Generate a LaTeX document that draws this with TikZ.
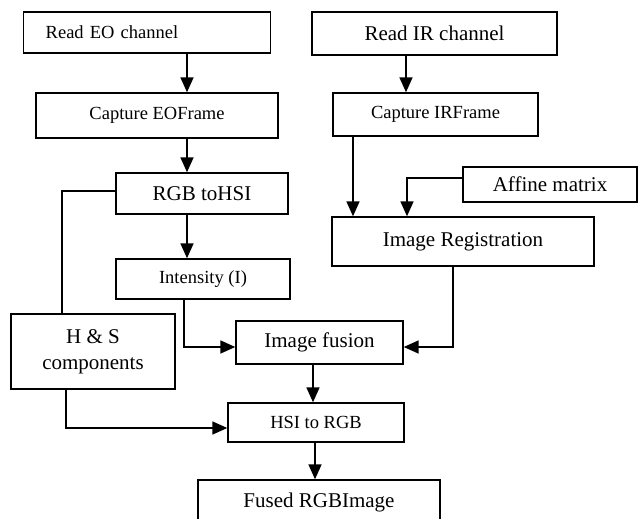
\documentclass[tikz,border=0pt]{standalone}
\usepackage{fontspec}
\setmainfont{Liberation Serif}
\usetikzlibrary{arrows.meta}
\begin{document}
\begin{tikzpicture}[x=1bp,y=-1bp,
  box/.style={draw,line width=1.4bp,inner sep=0pt,align=center},
  big/.style={font=\fontsize{21bp}{26bp}\selectfont},
  small/.style={font=\fontsize{18.5bp}{22bp}\selectfont},
  arr/.style={line width=1.7bp,-{Triangle[length=15bp,width=13bp]}},
  ln/.style={line width=1.5bp}]
\useasboundingbox (0,0) rectangle (638,519);
% left column
\node[box,small,anchor=west,text width=203bp,align=left,inner xsep=22bp,minimum height=41bp] (readEO) at (23,32.5) {Read EO channel};
\node[box,small,minimum width=242bp,minimum height=45bp] (capEO) at (157,115.5) {Capture EOFrame};
\node[box,big,minimum width=172bp,minimum height=41bp] (rgb) at (202,193.5) {RGB toHSI};
\node[box,small,minimum width=174bp,minimum height=40bp] (inten) at (203,279) {Intensity (I)};
\node[box,big,minimum width=164bp,minimum height=75bp] (hs) at (93,351.5) {H \& S\\components};
\node[box,big,minimum width=167bp,minimum height=43bp] (fusion) at (319.5,342.5) {Image fusion};
\node[box,small,minimum width=176bp,minimum height=39bp] (hsi) at (316,422.5) {HSI to RGB};
\node[box,big,minimum width=242bp,minimum height=45bp] (fused) at (319,502.5) {Fused RGBImage};
% right column
\node[box,big,minimum width=245bp,minimum height=43bp] (readIR) at (434.5,33.5) {Read IR channel};
\node[box,small,minimum width=205bp,minimum height=43bp] (capIR) at (435.5,114.5) {Capture IRFrame};
\node[box,big,minimum width=174bp,minimum height=35bp] (affine) at (550,184.5) {Affine matrix};
\node[box,big,minimum width=262bp,minimum height=49bp] (reg) at (463,241.5) {Image Registration};
% connectors
\draw[arr] (readEO.south -| 187,0) -- (capEO.north -| 187,0);
\draw[arr] (capEO.south -| 187,0) -- (rgb.north -| 187,0);
\draw[arr] (rgb.south -| 187,0) -- (inten.north -| 187,0);
\draw[ln] (rgb.west |- 0,191) -| (hs.north -| 62,0);
\draw[arr] (inten.south -| 184,0) |- (fusion.west |- 0,347);
\draw[arr] (reg.south -| 453,0) |- (fusion.east |- 0,347);
\draw[arr] (fusion.south -| 313,0) -- (hsi.north -| 313,0);
\draw[arr] (hs.south -| 66,0) |- (hsi.west |- 0,428);
\draw[arr] (hsi.south -| 315,0) -- (fused.north -| 315,0);
\draw[arr] (readIR.south -| 406,0) -- (capIR.north -| 406,0);
\draw[arr] (capIR.south -| 353,0) -- (reg.north -| 353,0);
\draw[arr] (affine.west |- 0,178) -| (reg.north -| 407,0);
\end{tikzpicture}
\end{document}
